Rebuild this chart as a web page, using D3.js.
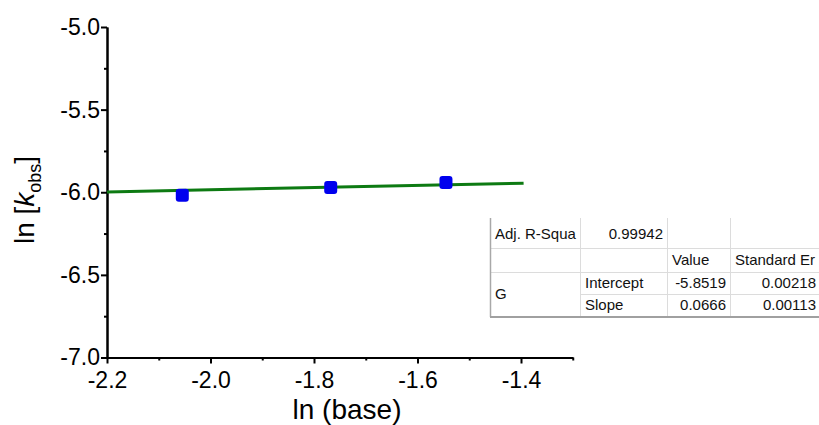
<!DOCTYPE html>
<html>
<head>
<meta charset="utf-8">
<script src="https://cdn.jsdelivr.net/npm/d3@7"></script>
<style>
  html, body { margin: 0; padding: 0; background: #fff; }
  svg { display: block; font-family: "Liberation Sans", Arial, sans-serif; }
</style>
</head>
<body>
<svg id="chart" width="819" height="425"></svg>
<script>
// Measured points: ln(base) vs ln(k_obs)
const lnBase = [-2.0545, -1.7677, -1.545];
const lnKobs = [-6.018, -5.972, -5.941];

// Linear fit results
const fitIntercept = -5.8519;
const fitSlope = 0.0666;
const fitRange = [-2.2, -1.395];

// Axis ticks
const xMajorTicks = [-2.2, -2.0, -1.8, -1.6, -1.4];
const xMinorTicks = [-2.1, -1.9, -1.7, -1.5, -1.3];
const yMajorTicks = [-5.0, -5.5, -6.0, -6.5, -7.0];
const yMinorTicks = [-5.25, -5.75, -6.25, -6.75];

// Fit statistics table
const tableRows = [
  ["Adj. R-Squa", "0.99942", "", ""],
  ["", "", "Value", "Standard Er"],
  ["G", "Intercept", "-5.8519", "0.00218"],
  ["", "Slope", "0.0666", "0.00113"]
];

const svg = d3.select("#chart");

const x = d3.scaleLinear().domain([-2.2, -1.3]).range([107, 572.75]);
const y = d3.scaleLinear().domain([-7.0, -5.0]).range([357.5, 27]);

const fmt = d => d.toFixed(1);

// Axes
const xAxis = svg.append("g").attr("transform", `translate(0,${y(-7.0)})`);
xAxis.call(d3.axisBottom(x).tickValues(xMajorTicks).tickFormat(fmt).tickSizeInner(6).tickSizeOuter(0).tickPadding(8));
const xMinor = svg.append("g").attr("transform", `translate(0,${y(-7.0)})`);
xMinor.call(d3.axisBottom(x).tickValues(xMinorTicks).tickFormat("").tickSizeInner(3).tickSizeOuter(0));

const yAxis = svg.append("g").attr("transform", `translate(${x(-2.2)},0)`);
yAxis.call(d3.axisLeft(y).tickValues(yMajorTicks).tickFormat(fmt).tickSizeInner(6).tickSizeOuter(0).tickPadding(1));
const yMinor = svg.append("g").attr("transform", `translate(${x(-2.2)},0)`);
yMinor.call(d3.axisLeft(y).tickValues(yMinorTicks).tickFormat("").tickSizeInner(3).tickSizeOuter(0));

svg.selectAll(".domain, .tick line").attr("stroke", "#000").attr("stroke-width", 2);
svg.selectAll(".tick text").attr("fill", "#000").attr("font-size", 23)
  .attr("font-family", "'Liberation Sans', Arial, sans-serif");

// Axis titles
svg.append("text")
  .attr("x", 347).attr("y", 419)
  .attr("text-anchor", "middle")
  .attr("font-size", 28)
  .text("ln (base)");

const yTitle = svg.append("text")
  .attr("transform", "translate(34,200) rotate(-90)")
  .attr("text-anchor", "middle")
  .attr("font-size", 28);
yTitle.append("tspan").text("ln [");
yTitle.append("tspan").attr("font-style", "italic").text("k");
yTitle.append("tspan").attr("font-size", 18).attr("dy", 7).text("obs");
yTitle.append("tspan").attr("dy", -7).text("]");

// Fit line
const lineGen = d3.line().x(d => x(d)).y(d => y(fitIntercept + fitSlope * d));
svg.append("path")
  .datum(fitRange)
  .attr("d", lineGen)
  .attr("fill", "none")
  .attr("stroke", "#0d7a12")
  .attr("stroke-width", 3);

// Data markers
const ms = 13;
svg.append("g").selectAll("rect")
  .data(d3.zip(lnBase, lnKobs))
  .join("rect")
  .attr("x", d => x(d[0]) - ms / 2)
  .attr("y", d => y(d[1]) - ms / 2)
  .attr("width", ms).attr("height", ms)
  .attr("rx", 3)
  .attr("fill", "#0000ee");

// Statistics table
const colEdges = [490, 580, 667, 730, 830];
const rowEdges = [220, 248, 272, 294, 316];
const tbl = svg.append("g");
tbl.append("rect").attr("x", 490).attr("y", 220).attr("width", 340).attr("height", 96)
  .attr("fill", "#fff");

// grid lines
const grid = tbl.append("g").attr("stroke", "#dcdcdc").attr("stroke-width", 1);
colEdges.slice(1, 4).forEach(cx => {
  grid.append("line").attr("x1", cx + 0.5).attr("x2", cx + 0.5).attr("y1", 218).attr("y2", 316);
});
rowEdges.slice(1, 4).forEach((ry, i) => {
  grid.append("line")
    .attr("x1", i === 2 ? colEdges[1] : colEdges[0])
    .attr("x2", 819)
    .attr("y1", ry + 0.5).attr("y2", ry + 0.5);
});
// outer edges
tbl.append("line").attr("x1", 490.5).attr("x2", 490.5).attr("y1", 218).attr("y2", 317)
  .attr("stroke", "#a8a8a8").attr("stroke-width", 1.5);
tbl.append("line").attr("x1", 490).attr("x2", 819).attr("y1", 317).attr("y2", 317)
  .attr("stroke", "#a0a0a0").attr("stroke-width", 2);

const numeric = s => /^-?\d/.test(s);
tableRows.forEach((row, r) => {
  row.forEach((txt, c) => {
    if (!txt) return;
    const end = numeric(txt);
    let yc = (rowEdges[r] + rowEdges[r + 1]) / 2;
    if (txt === "G") yc = (rowEdges[2] + rowEdges[4]) / 2;
    const xPos = end ? (c === 3 ? 816 : colEdges[c + 1] - 4) : colEdges[c] + 5;
    tbl.append("text")
      .attr("x", xPos)
      .attr("y", yc)
      .attr("dy", "0.36em")
      .attr("text-anchor", end ? "end" : "start")
      .attr("font-size", 15)
      .attr("fill", "#111")
      .text(txt);
  });
});
</script>
</body>
</html>
